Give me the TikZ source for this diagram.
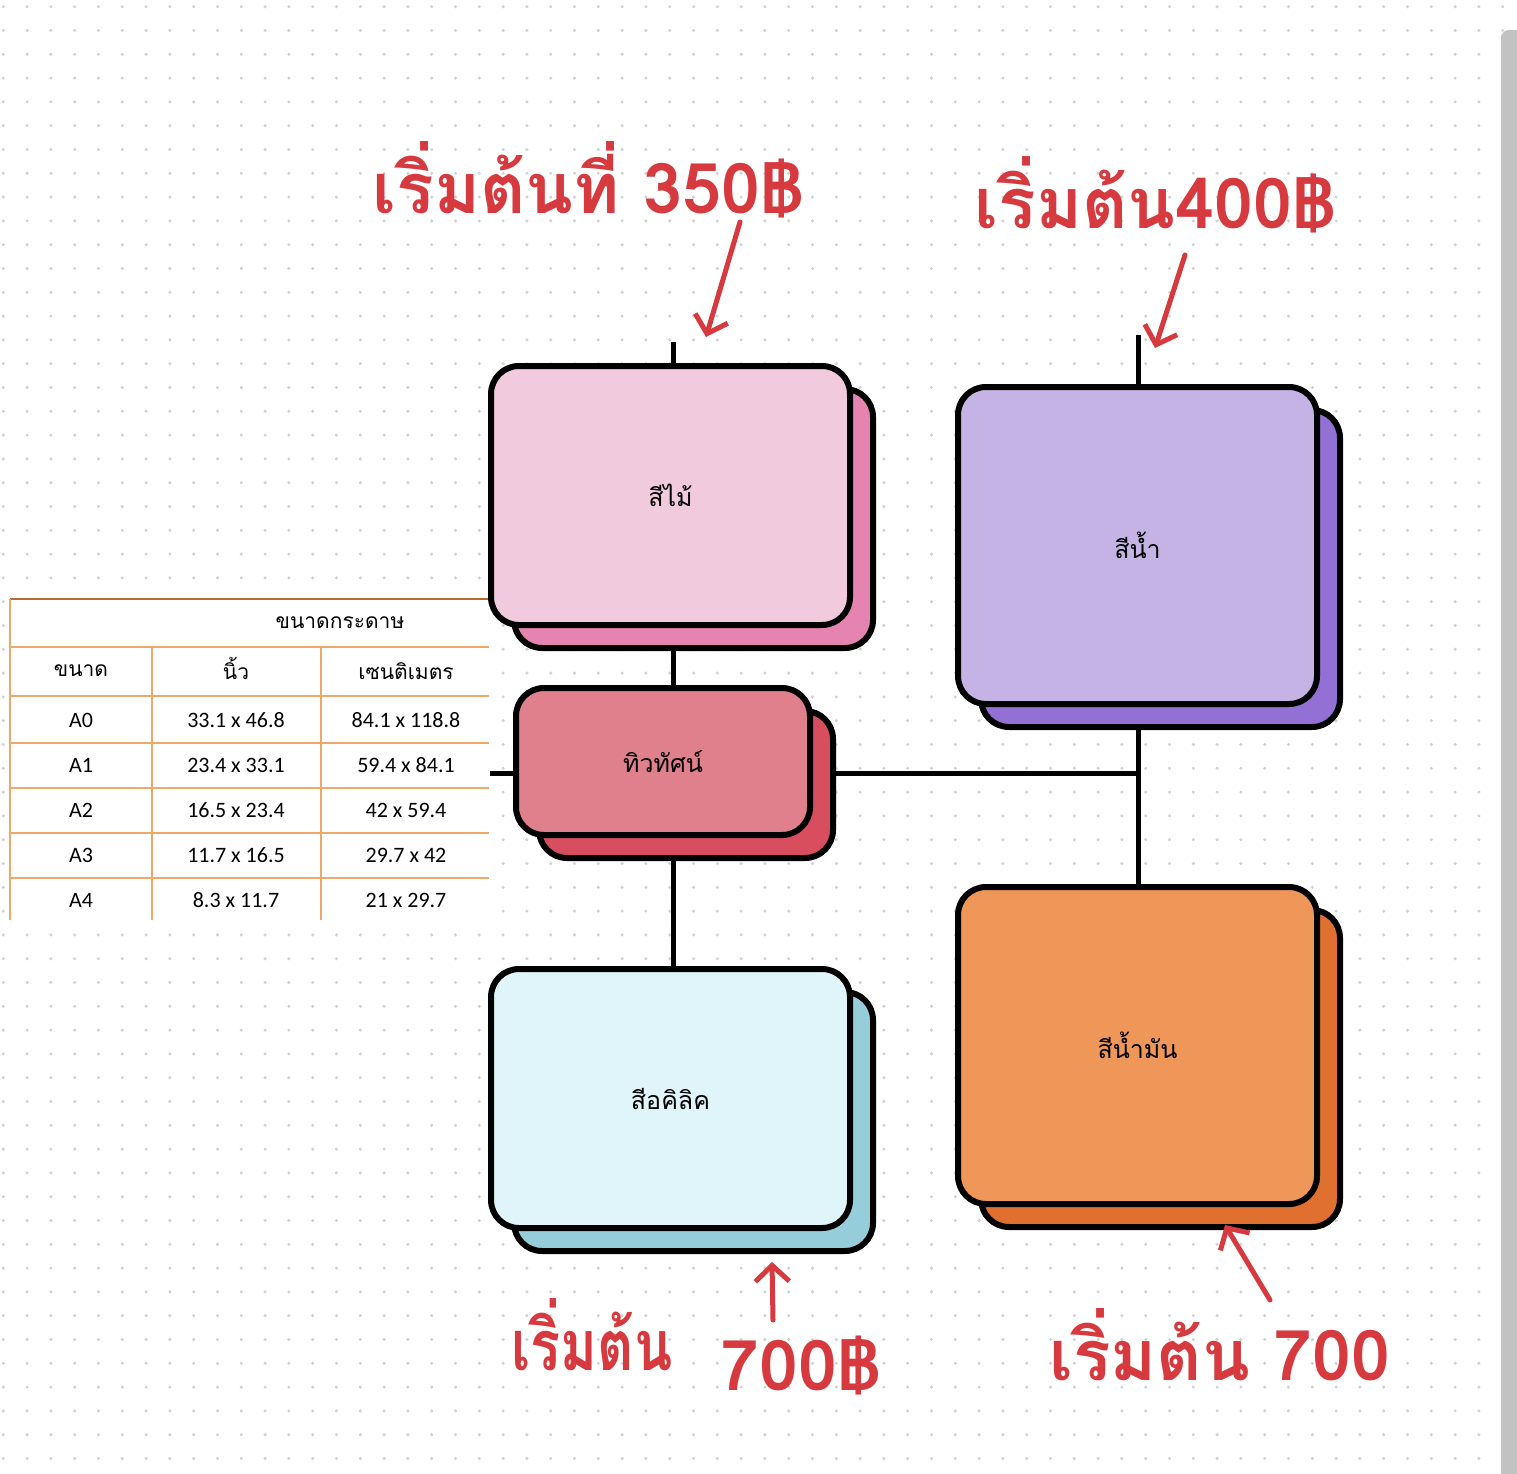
\documentclass[tikz,border=0pt]{standalone}
\usepackage{fontspec}
\newfontfamily\thaifont[Script=Thai]{Loma}
\newfontfamily\numfont{Carlito}
\usetikzlibrary{shadows,arrows.meta}
\pgfdeclarelayer{dots}
\pgfdeclarelayer{wires}
\pgfsetlayers{dots,wires,main}

\definecolor{pinkfront}{HTML}{F2CADD}
\definecolor{pinkback}{HTML}{E584B0}
\definecolor{purplefront}{HTML}{C5B3E6}
\definecolor{purpleback}{HTML}{9370D3}
\definecolor{rosefront}{HTML}{E0808C}
\definecolor{roseback}{HTML}{D94E5F}
\definecolor{bluefront}{HTML}{DFF5FA}
\definecolor{blueback}{HTML}{96CDDA}
\definecolor{orangefront}{HTML}{EF9659}
\definecolor{orangeback}{HTML}{E07030}
\definecolor{ink}{HTML}{D63A3F}
\definecolor{tableline}{HTML}{F0A868}
\definecolor{tabletop}{HTML}{B86A32}
\definecolor{dotgray}{HTML}{D2D2D2}
\definecolor{scrollgray}{HTML}{C2C2C2}

\begin{document}
\begin{tikzpicture}[x=1pt, y=-1pt,
      card/.style={rectangle, rounded corners=28pt, draw=black, line width=6pt, inner sep=0pt,
        font=\thaifont\fontsize{25}{30}\selectfont,
        copy shadow={shadow xshift=23pt, shadow yshift=-23pt, fill=#1, draw=black, line width=6pt}},
      wire/.style={draw=black, line width=5pt},
      cell/.style={font=\numfont\fontsize{22}{26}\selectfont},
      thaicell/.style={font=\thaifont\fontsize{21}{25}\selectfont},
      hand/.style={text=ink, font=\thaifont\bfseries\fontsize{70}{80}\selectfont},
      scribble/.style={draw=ink, line width=5pt, line cap=round, line join=round,
        -{Straight Barb[length=16pt, width=34pt]}},
      node distance=266pt]
      \useasboundingbox (0,0) rectangle (1517,1474);

      % dotted paper
      \begin{pgfonlayer}{dots}
        \fill[white] (0,0) rectangle (1517,1474);
        \foreach \i in {0,...,63}
          \foreach \j in {0,...,61}
            \fill[dotgray] (3.3+23.8*\i, 6.7+23.8*\j) circle (1.7);
      \end{pgfonlayer}

      % paper size table
      \fill[white] (10,598) rectangle (489,920);
      \draw[tabletop, line width=2pt] (10,599) -- (489,599);
      \foreach \y in {647,696,743,788,833,878}
        \draw[tableline, line width=1.5pt] (10,\y) -- (489,\y);
      \draw[tableline, line width=1.5pt] (10,599) -- (10,920);
      \foreach \x in {152,321}
        \draw[tableline, line width=1.5pt] (\x,647) -- (\x,920);
      \node[thaicell] (papersize) at (340,623) {ขนาดกระดาษ};
      \node[thaicell] (colsize) at (81,671) {ขนาด};
      \node[thaicell] (colinch) at (236,668) {นิ้ว};
      \node[thaicell] (colcm) at (406,671) {เซนติเมตร};
      \foreach \sz/\inch/\cm [count=\r from 0] in {A0/33.1 x 46.8/84.1 x 118.8,
          A1/23.4 x 33.1/59.4 x 84.1, A2/16.5 x 23.4/42 x 59.4,
          A3/11.7 x 16.5/29.7 x 42, A4/8.3 x 11.7/21 x 29.7} {
        \node[cell] (size\r) at (81,720+45*\r) {\sz};
        \node[cell] (inch\r) at (236,720+45*\r) {\inch};
        \node[cell] (cm\r) at (406,720+45*\r) {\cm};
      }

      % colour cards
      \node[card=pinkback, fill=pinkfront, minimum width=359pt, minimum height=259pt] (maai) at (670.5,495.5) {สีไม้};
      \node[card=purpleback, fill=purplefront, minimum width=359pt, minimum height=317pt] (nam) at (1137.5,545.5) {สีน้ำ};
      \node[card=roseback, fill=rosefront, minimum width=294pt, minimum height=147pt, below of=maai, xshift=-7.5pt] (tiwtat) {ทิวทัศน์};
      \node[card=blueback, fill=bluefront, minimum width=359pt, minimum height=259pt, below of=maai, node distance=603pt] (akrylic) {สีอคิลิค};
      \node[card=orangeback, fill=orangefront, minimum width=359pt, minimum height=317pt, below of=nam, node distance=500pt] (oil) {สีน้ำมัน};

      \coordinate (maaitop) at (673,342);
      \coordinate (namtop) at (1138,335);
      \coordinate (tableedge) at (490,773);
      \coordinate (junction) at (1138,773);

      \begin{pgfonlayer}{wires}
        \draw[wire] (maaitop) -- (maaitop |- maai.center);
        \draw[wire] (maaitop |- maai.center) -- (maaitop |- tiwtat.center);
        \draw[wire] (maaitop |- tiwtat.center) -- (maaitop |- akrylic.center);
        \draw[wire] (tableedge) -- (tiwtat.center |- tableedge);
        \draw[wire] (tiwtat.center |- junction) -- (junction);
        \draw[wire] (namtop) -- (namtop |- oil.center);
      \end{pgfonlayer}

      % hand notes
      \node[hand] (start350) at (588,180) {เริ่มต้นที่ 350฿};
      \node[hand] (start400) at (1155,195) {เริ่มต้น400฿};
      \node[hand, xscale=0.8] (startacr) at (592,1335) {เริ่มต้น};
      \node[hand] (price700) at (800,1365) {700฿};
      \node[hand] (startoil) at (1220,1345) {เริ่มต้น 700};

      \coordinate (tail350) at (740,222);
      \coordinate (tip350) at (706,337);
      \coordinate (tail400) at (1185,255);
      \coordinate (tip400) at (1155,348);
      \coordinate (tail700) at (773,1320);
      \coordinate (tip700) at (772,1262);
      \coordinate (tailoil) at (1270,1300);
      \coordinate (tipoil) at (1225,1225);
      \draw[scribble] (tail350) -- (tip350);
      \draw[scribble] (tail400) -- (tip400);
      \draw[scribble] (tail700) -- (tip700);
      \draw[scribble] (tailoil) -- (tipoil);

      % scroll bar
      \begin{scope}
        \clip (0,0) rectangle (1517,1474);
        \fill[scrollgray, rounded corners=8pt] (1501,30) rectangle (1525,1490);
      \end{scope}
    \end{tikzpicture}
\end{document}
